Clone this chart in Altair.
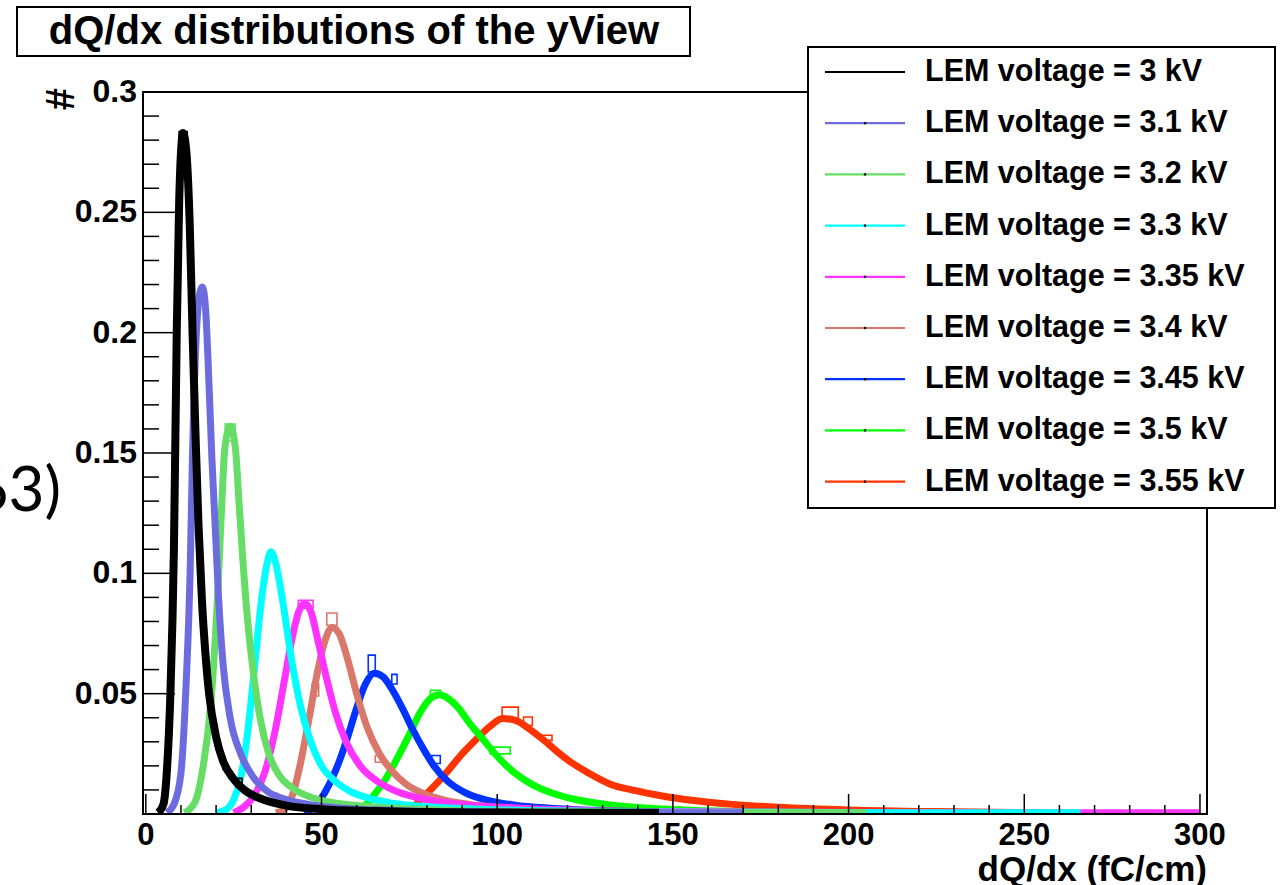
import altair as alt
import pandas as pd

# ---------------- data ----------------
names = [
    "LEM voltage = 3 kV", "LEM voltage = 3.1 kV", "LEM voltage = 3.2 kV",
    "LEM voltage = 3.3 kV", "LEM voltage = 3.35 kV", "LEM voltage = 3.4 kV",
    "LEM voltage = 3.45 kV", "LEM voltage = 3.5 kV", "LEM voltage = 3.55 kV",
]
colors = ["#000000", "#6c6cdf", "#66dd66", "#00ffff", "#ff33ff",
          "#d9786a", "#0033ff", "#00ff00", "#ff3300"]

x_300 = [3.5, 5, 6, 7, 8, 8.8, 9.5, 10.6, 11.6, 12.5, 13.3, 14.2, 15, 16, 17, 18, 20, 22, 25, 28, 32, 36, 40, 50, 65, 80, 100, 125, 146]
y_300 = [0.0005, 0.004, 0.018, 0.05, 0.11, 0.2, 0.255, 0.283, 0.274, 0.245, 0.2, 0.155, 0.12, 0.088, 0.066, 0.05, 0.032, 0.022, 0.0145, 0.010, 0.0068, 0.0048, 0.0035, 0.002, 0.0012, 0.0008, 0.0006, 0.0005, 0.0005]

x_310 = [6, 8, 10, 11.5, 12.6, 13.3, 14.3, 15.2, 16.1, 17.0, 18.0, 18.8, 19.8, 20.7, 22, 24, 27, 30.5, 35, 40, 47, 55, 70, 90, 120, 150, 170]
y_310 = [0.0005, 0.004, 0.017, 0.055, 0.1, 0.15, 0.197, 0.215, 0.219, 0.21, 0.178, 0.148, 0.118, 0.09, 0.062, 0.04, 0.025, 0.0155, 0.009, 0.006, 0.0038, 0.0025, 0.0015, 0.001, 0.0007, 0.0005, 0.0005]

x_320 = [11, 14, 16, 18.5, 20.3, 21.5, 22.5, 24, 25.5, 26.5, 27.5, 29, 30.5, 32.5, 35, 38, 42, 47, 53, 60, 70, 85, 110, 140, 170, 205]
y_320 = [0.0005, 0.005, 0.017, 0.046, 0.087, 0.125, 0.152, 0.161, 0.152, 0.13, 0.108, 0.08, 0.06, 0.04, 0.025, 0.016, 0.0105, 0.007, 0.0048, 0.0035, 0.0025, 0.0016, 0.001, 0.0007, 0.0005, 0.0005]

x_330 = [20, 23, 25, 27, 29, 31, 33, 34.5, 35.6, 37, 39, 41.5, 44, 46.5, 50, 54, 58, 63, 70, 80, 95, 115, 145, 180, 220, 266]
y_330 = [0.0005, 0.002, 0.006, 0.015, 0.034, 0.062, 0.09, 0.104, 0.109, 0.104, 0.088, 0.064, 0.045, 0.032, 0.02, 0.0135, 0.0095, 0.0068, 0.0045, 0.003, 0.002, 0.0013, 0.0008, 0.0006, 0.0005, 0.0005]

x_335 = [25, 28, 31, 34, 37, 39.5, 41.5, 43.5, 45.2, 47, 49, 51.5, 54, 57, 61, 66, 72, 80, 90, 105, 125, 150, 190, 240, 300]
y_335 = [0.0005, 0.003, 0.008, 0.018, 0.036, 0.056, 0.072, 0.084, 0.0875, 0.084, 0.072, 0.056, 0.042, 0.03, 0.02, 0.0135, 0.009, 0.006, 0.004, 0.0025, 0.0015, 0.001, 0.0007, 0.0005, 0.0005]

x_340 = [37, 39.5, 42, 44, 46.5, 49, 51, 53, 55, 57.5, 60, 63, 66.5, 70, 74, 79, 85, 92, 100, 112, 130, 155, 190]
y_340 = [0.0005, 0.002, 0.009, 0.021, 0.04, 0.06, 0.072, 0.0775, 0.075, 0.064, 0.05, 0.036, 0.025, 0.018, 0.0125, 0.0085, 0.0058, 0.004, 0.0028, 0.0018, 0.0011, 0.0007, 0.0005]

x_345 = [45, 48, 51, 54, 57, 60, 62.5, 65, 67.5, 70, 73, 76, 79, 82, 86, 91, 97, 105, 115, 130, 150, 170]
y_345 = [0.0005, 0.003, 0.009, 0.018, 0.03, 0.044, 0.054, 0.0585, 0.057, 0.052, 0.044, 0.035, 0.027, 0.02, 0.0135, 0.0088, 0.0058, 0.0037, 0.0024, 0.0014, 0.0008, 0.0005]

x_350 = [58, 62, 65, 68, 71.5, 75, 78, 81, 83.5, 86, 89, 92, 96, 100, 105, 110, 116, 123, 132, 142, 155, 175, 200]
y_350 = [0.0005, 0.003, 0.008, 0.014, 0.023, 0.033, 0.042, 0.048, 0.0495, 0.048, 0.044, 0.038, 0.031, 0.024, 0.017, 0.0122, 0.0085, 0.0058, 0.0038, 0.0025, 0.0016, 0.0009, 0.0005]

x_355 = [72, 76, 80, 83, 86, 90, 94, 98, 101.5, 105, 109, 113, 117, 121, 126, 132, 139, 147, 156, 167, 180, 200, 225, 255]
y_355 = [0.0005, 0.003, 0.0085, 0.013, 0.018, 0.025, 0.031, 0.0365, 0.0397, 0.039, 0.0355, 0.031, 0.026, 0.0215, 0.017, 0.0125, 0.0098, 0.0075, 0.0056, 0.004, 0.0028, 0.0017, 0.001, 0.0006]

series_x = [x_300, x_310, x_320, x_330, x_335, x_340, x_345, x_350, x_355]
series_y = [y_300, y_310, y_320, y_330, y_335, y_340, y_345, y_350, y_355]

# histogram bins that stick out of the fitted curves (thin open boxes)
hist_series = [0, 0, 0, 0, 1, 2, 4, 5, 5, 5, 6, 6, 6, 7, 7, 8, 8, 8]
hist_x0 = [9.5, 22.0, 26.3, 33.4, 36.3, 22.6, 43.4, 51.5, 47.3, 65.3, 63.3, 70.0, 81.4, 81.0, 98.0, 101.4, 107.5, 113.0]
hist_x1 = [11.8, 23.1, 27.4, 34.8, 37.4, 25.4, 47.6, 54.4, 49.2, 67.6, 65.3, 71.5, 83.8, 83.8, 103.7, 106.0, 110.0, 115.6]
hist_top = [0.2836, 0.0197, 0.0148, 0.0065, 0.0085, 0.162, 0.0888, 0.0835, 0.054, 0.0243, 0.066, 0.058, 0.0243, 0.0514, 0.0278, 0.0444, 0.0403, 0.0327]
hist_bot = [0.2740, 0.0185, 0.0131, 0.0048, 0.0069, 0.155, 0.0855, 0.0784, 0.049, 0.0215, 0.059, 0.054, 0.021, 0.0490, 0.0250, 0.0396, 0.0368, 0.0306]

x_major = [0, 50, 100, 150, 200, 250, 300]
x_minor = [10, 20, 30, 40, 60, 70, 80, 90, 110, 120, 130, 140, 160, 170, 180, 190,
           210, 220, 230, 240, 260, 270, 280, 290]
y_major = [0.05, 0.1, 0.15, 0.2, 0.25, 0.3]
y_minor = [0.01, 0.02, 0.03, 0.04, 0.06, 0.07, 0.08, 0.09, 0.11, 0.12, 0.13, 0.14,
           0.16, 0.17, 0.18, 0.19, 0.21, 0.22, 0.23, 0.24, 0.26, 0.27, 0.28, 0.29]
x_labels = ["0", "50", "100", "150", "200", "250", "300"]
y_labels = ["0.05", "0.1", "0.15", "0.2", "0.25", "0.3"]

title_text = "dQ/dx distributions of the yView"
x_title = "dQ/dx (fC/cm)"
y_title = "#"
side_text = "63)"

# ---------------- build ----------------
rows = []
for i, (n, xs, ys) in enumerate(zip(names, series_x, series_y)):
    for xv, yv in zip(xs, ys):
        rows.append({"series": n, "order": i, "x": xv, "y": yv})
df = pd.DataFrame(rows)

hist = pd.DataFrame({"series": [names[i] for i in hist_series], "x0": hist_x0, "x1": hist_x1,
                     "top": hist_top, "bot": hist_bot})

W, H = 1064, 722
FONT = "Liberation Sans"
xscale = alt.Scale(domain=[-0.8, 302], nice=False, zero=False)
yscale = alt.Scale(domain=[0, 0.3], nice=False, zero=False)
cscale = alt.Scale(domain=names, range=colors)
one = pd.DataFrame({"a": [0]})

layers = []

# curves (reverse order so 3 kV on top)
for i in reversed(range(len(names))):
    sub = df[df["order"] == i]
    layers.append(
        alt.Chart(sub).mark_line(strokeWidth=8 if i == 0 else 7, interpolate="monotone", clip=True,
                                 strokeJoin="miter").encode(
            x=alt.X("x:Q", scale=xscale, axis=None),
            y=alt.Y("y:Q", scale=yscale, axis=None),
            color=alt.Color("series:N", scale=cscale, legend=None),
            order=alt.Order("x:Q"),
        )
    )

# histogram bins
layers.append(alt.Chart(hist).mark_rect(fill=None, strokeWidth=1.6, clip=True).encode(
    x=alt.X("x0:Q", scale=xscale, axis=None), x2="x1:Q",
    y=alt.Y("top:Q", scale=yscale, axis=None), y2="bot:Q",
    stroke=alt.Stroke("series:N", scale=cscale, legend=None)))

# frame
layers.append(alt.Chart(one).mark_rect(fill=None, stroke="black", strokeWidth=2).encode(
    x=alt.value(0), x2=alt.value(W), y=alt.value(0), y2=alt.value(H)))

# ticks (inside, ROOT style)
layers.append(alt.Chart(pd.DataFrame({"v": x_major})).mark_rule(color="black", strokeWidth=1.5).encode(
    x=alt.X("v:Q", scale=xscale, axis=None), y=alt.value(H), y2=alt.value(H - 20)))
layers.append(alt.Chart(pd.DataFrame({"v": x_minor})).mark_rule(color="black", strokeWidth=1.5).encode(
    x=alt.X("v:Q", scale=xscale, axis=None), y=alt.value(H), y2=alt.value(H - 9)))
layers.append(alt.Chart(pd.DataFrame({"v": y_major})).mark_rule(color="black", strokeWidth=1.5).encode(
    y=alt.Y("v:Q", scale=yscale, axis=None), x=alt.value(0), x2=alt.value(32)))
layers.append(alt.Chart(pd.DataFrame({"v": y_minor})).mark_rule(color="black", strokeWidth=1.5).encode(
    y=alt.Y("v:Q", scale=yscale, axis=None), x=alt.value(0), x2=alt.value(16)))

# tick labels
layers.append(alt.Chart(pd.DataFrame({"v": x_major, "t": x_labels})).mark_text(
    font=FONT, fontSize=31, fontWeight="bold", align="center", baseline="top", color="black").encode(
    x=alt.X("v:Q", scale=xscale, axis=None), y=alt.value(H + 7), text="t:N"))
layers.append(alt.Chart(pd.DataFrame({"v": y_major, "t": y_labels})).mark_text(
    font=FONT, fontSize=32, fontWeight="bold", align="right", baseline="middle", color="black").encode(
    y=alt.Y("v:Q", scale=yscale, axis=None), x=alt.value(-6), text="t:N"))

# axis titles
layers.append(alt.Chart(one).mark_text(text=x_title, font=FONT, fontSize=35, fontWeight="bold",
                                       align="right", baseline="alphabetic", color="black").encode(
    x=alt.value(W), y=alt.value(H + 67)))
layers.append(alt.Chart(one).mark_text(text=y_title, font=FONT, fontSize=40, fontWeight="bold",
                                       align="center", baseline="middle", angle=270, color="black").encode(
    x=alt.value(-81), y=alt.value(7)))

# title box
layers.append(alt.Chart(one).mark_rect(fill="white", stroke="black", strokeWidth=2).encode(
    x=alt.value(-126), x2=alt.value(547), y=alt.value(-85), y2=alt.value(-36)))
layers.append(alt.Chart(one).mark_text(text=title_text, font=FONT, fontSize=40, fontWeight="bold",
                                       align="center", baseline="middle", color="black").encode(
    x=alt.value(211), y=alt.value(-60)))

# legend
LX0, LX1, LY1 = 665, 1132, 416
layers.append(alt.Chart(one).mark_rect(fill="white", stroke="black", strokeWidth=2).encode(
    x=alt.value(LX0), x2=alt.value(LX1), y=alt.value(-45), y2=alt.value(LY1)))
leg = pd.DataFrame({"series": names, "row": [-20 + 51.2 * i for i in range(len(names))],
                    "dot": [0] + [1] * (len(names) - 1)})
layers.append(alt.Chart(leg).mark_rule(strokeWidth=2.2).encode(
    x=alt.value(682), x2=alt.value(762), y=alt.Y("row:Q", scale=None),
    color=alt.Color("series:N", scale=cscale, legend=None)))
layers.append(alt.Chart(leg[leg["dot"] == 1]).mark_square(size=5, color="black", opacity=1).encode(
    x=alt.value(722), y=alt.Y("row:Q", scale=None)))
layers.append(alt.Chart(leg).mark_text(font=FONT, fontSize=30.5, fontWeight="bold", align="left",
                                       baseline="middle", color="black").encode(
    x=alt.value(782), y=alt.Y("row:Q", scale=None), text="series:N"))

# stray text at the left edge (partly cut off, as in the reference)
layers.append(alt.Chart(one).mark_text(text=side_text, font="Lato", fontSize=62,
                                       align="right", baseline="alphabetic", color="black").encode(
    x=alt.value(-82), y=alt.value(419)))

chart = alt.layer(*layers).properties(
    width=W, height=H,
    autosize=alt.AutoSizeParams(type="none"),
    padding={"left": 143, "top": 92, "right": 75, "bottom": 71},
    background="white",
).configure_view(stroke=None)

chart.save("out.html", embed_options={"renderer": "svg", "actions": False})
